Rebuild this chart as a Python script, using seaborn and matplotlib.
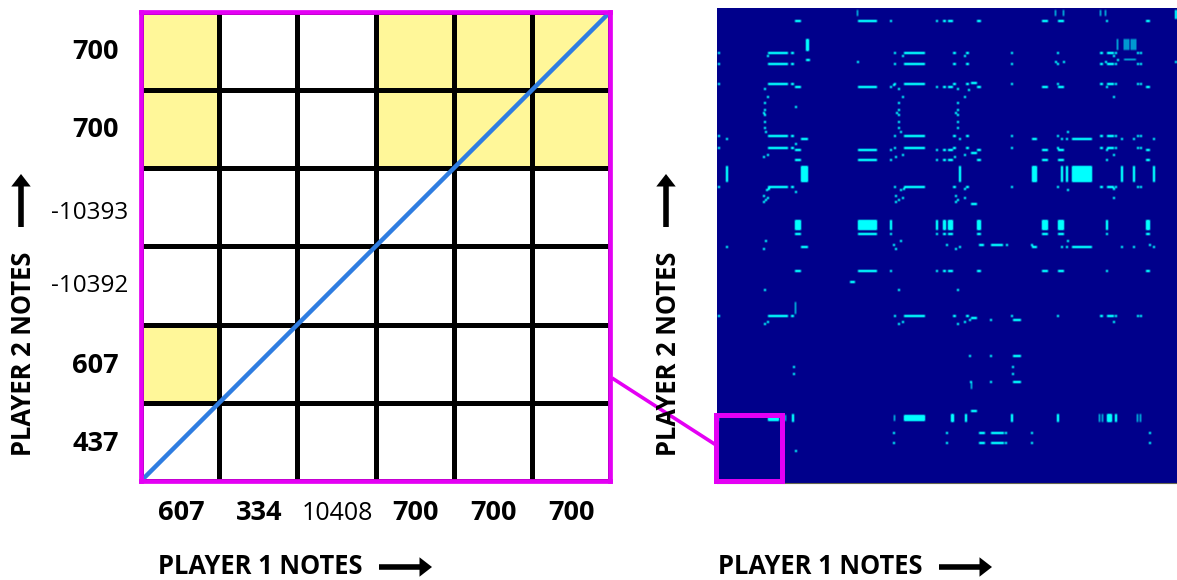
import numpy as np
import pandas as pd
import seaborn as sns
import matplotlib
matplotlib.use("Agg")
import matplotlib.pyplot as plt
from matplotlib.colors import LinearSegmentedColormap, ListedColormap
from matplotlib.patches import Rectangle, FancyArrowPatch
from matplotlib.transforms import ScaledTranslation

# ---- zoomed 6x6 matrix ----
p1_labels = ["607", "334", "10408", "700", "700", "700"]
p2_labels = ["700", "700", "-10393", "-10392", "607", "437"]
zoom_matrix = [
    [1, 0, 0, 1, 1, 1],
    [1, 0, 0, 1, 1, 1],
    [0, 0, 0, 0, 0, 0],
    [0, 0, 0, 0, 0, 0],
    [1, 0, 0, 0, 0, 0],
    [0, 0, 0, 0, 0, 0],
]

# ---- full self-similarity matrix: note index ranges of matches ----
N_P1, N_P2 = 460, 475
rows_a = [44, 55, 75, 127, 139, 178, 307]
cols_a = [(1, 2), (51, 70), (74, 76), (177, 178), (187, 207), (236, 238), (249, 251), (294, 295),
          (340, 341), (383, 385), (390, 396), (398, 399), (420, 421), (423, 424)]
rows_b = [12, 78, 141, 151, 225, 262]
cols_b = [(78, 83), (141, 159), (173, 174), (219, 220), (226, 228), (231, 235), (260, 263),
          (325, 330), (341, 343), (344, 346), (389, 390), (429, 432)]
block_b_rows = (212, 222)
rows_c = [130, 238]
cols_c = [(9, 10), (84, 90), (242, 243), (315, 319), (344, 345), (349, 350), (355, 374),
          (404, 405), (416, 417), (436, 437)]
block_c_rows = (158, 174)
rows_d = [424, 434]
cols_d = [(229, 230), (262, 267), (274, 286), (288, 289), (314, 315), (432, 433), (176, 177)]
# strong tall blocks (p1_start, p1_end, p2_start, p2_end)
blocks = [(89, 92, 31, 43), (51, 62, 407, 413), (187, 208, 407, 413), (390, 395, 406, 414),
          (234, 237, 406, 414), (248, 250, 406, 414), (75, 77, 406, 414)]
# faint segments (p1_start, p1_end, p2_start, p2_end)
segments = [
    (140, 141, 2, 8), (141, 159, 12, 13), (338, 339, 2, 8), (346, 347, 2, 8), (383, 384, 2, 8),
    (388, 389, 2, 8), (458, 460, 2, 11), (400, 401, 31, 42), (407, 408, 31, 42), (409, 410, 31, 42),
    (411, 412, 31, 42), (414, 415, 31, 42), (416, 417, 31, 42), (418, 419, 31, 42),
    (89, 93, 51, 53), (407, 419, 51, 52), (254, 260, 74, 76), (254, 260, 144, 146),
    (254, 260, 195, 197), (78, 79, 294, 306), (133, 138, 273, 275), (254, 260, 309, 311),
    (296, 304, 311, 313), (296, 304, 347, 349), (296, 304, 373, 375), (254, 255, 374, 381),
    (254, 260, 402, 404), (262, 267, 236, 238), (274, 286, 236, 238), (68, 69, 407, 413),
    (177, 178, 407, 413), (294, 296, 406, 414), (340, 342, 406, 414), (382, 383, 406, 414),
    (385, 386, 406, 414), (398, 400, 406, 414), (420, 421, 406, 414), (423, 424, 406, 414),
    (1, 2, 407, 413),
]
# isolated single-note matches (p1, p2)
dots = [
    (173, 12), (50, 47), (185, 47), (140, 53), (176, 76), (177, 75), (181, 80), (47, 80), (50, 88),
    (47, 94), (78, 98), (47, 101), (46, 104), (47, 106), (47, 113), (47, 119), (48, 123), (181, 94),
    (185, 88), (181, 101), (179, 104), (181, 106), (181, 113), (181, 119), (183, 123), (78, 135),
    (46, 148), (50, 146), (178, 148), (185, 146), (400, 51), (247, 47), (396, 47), (338, 53),
    (346, 53), (388, 53), (458, 53), (240, 80), (251, 81), (247, 88), (396, 88), (240, 94),
    (240, 101), (238, 104), (240, 106), (240, 113), (240, 119), (350, 123), (247, 146), (396, 146),
    (237, 148), (78, 183), (49, 181), (51, 180), (46, 187), (50, 189), (48, 191), (46, 193),
    (183, 181), (186, 180), (178, 187), (185, 189), (181, 191), (178, 193), (48, 232), (183, 232),
    (176, 236), (46, 240), (178, 240), (47, 281), (181, 281), (247, 180), (396, 180), (350, 181),
    (238, 187), (247, 189), (240, 191), (238, 193), (396, 189), (350, 232), (229, 236), (289, 236),
    (314, 236), (432, 236), (238, 240), (240, 281), (252, 311), (273, 311), (47, 315), (50, 313),
    (181, 315), (185, 313), (76, 358), (76, 365), (78, 442), (252, 347), (273, 347), (295, 358),
    (295, 365), (253, 373), (273, 373), (240, 315), (247, 313), (396, 313),
]

FONT = "Open Sans"
MAGENTA = "#e400f4"

def fill(m, x0, x1, y0, y1):
    m[y0:y1, x0:x1] = 1.0

full = np.zeros((N_P2, N_P1))
for rows, cols in ((rows_a, cols_a), (rows_b, cols_b), (rows_c, cols_c), (rows_d, cols_d)):
    for r in rows:
        for a, b in cols:
            fill(full, a, b + 1, r, r + 2)
for a, b in cols_b:
    fill(full, a, b + 1, *block_b_rows)
for a, b in cols_c:
    fill(full, a, b + 1, *block_c_rows)
for a, b, c, d in segments + blocks:
    fill(full, a, b, c, d)
for x, y in dots:
    fill(full, x, x + 2, y, y + 2)

# the reference image is slightly soft: a light display smoothing of the binary matrix
kernel = np.array([0.25, 0.5, 0.25])
soft = np.apply_along_axis(lambda v: np.convolve(v, kernel, mode="same"), 0, full)
soft = np.apply_along_axis(lambda v: np.convolve(v, kernel, mode="same"), 1, soft)
soft = np.clip(soft * 1.2, 0, 1)

W, H = 1177, 580
fig = plt.figure(figsize=(W / 100, H / 100), dpi=100, facecolor="white")

def axes_px(x0, y0, x1, y1, **kw):
    return fig.add_axes([x0 / W, 1 - y1 / H, (x1 - x0) / W, (y1 - y0) / H], **kw)

# left heatmap
axL = axes_px(141, 12, 610, 481)
sns.heatmap(pd.DataFrame(zoom_matrix, index=p2_labels, columns=range(6)), ax=axL, cbar=False,
            cmap=ListedColormap(["#ffffff", "#fff799"]), vmin=0, vmax=1,
            linewidths=2.5, linecolor="black", square=False,
            xticklabels=p1_labels, yticklabels=p2_labels)
axL.plot([0, 6], [6, 0], color="#2f7de1", lw=3.2, solid_capstyle="butt", zorder=5)
for s in axL.spines.values():
    s.set_visible(True)
    s.set_color(MAGENTA)
    s.set_linewidth(3.4)
    s.set_zorder(6)
axL.tick_params(axis="x", length=0, pad=10, rotation=0)
axL.tick_params(axis="y", length=0, pad=34, rotation=0)
px = 1 / 100
for t in axL.get_xticklabels():
    heavy = t.get_text() != "10408"
    t.set(fontfamily=FONT, fontsize=19.5 if heavy else 18, fontweight="bold" if heavy else "normal", color="black")
    t.set_transform(t.get_transform() + ScaledTranslation((1 if heavy else 1) * px, -(5 if heavy else 6) * px, fig.dpi_scale_trans))
ylab_dx = [2, 2, -4, -4, 2, 2]
ylab_dy = [1, 1, 6, 0, 2, 2]
for t, dx, dy in zip(axL.get_yticklabels(), ylab_dx, ylab_dy):
    heavy = not t.get_text().startswith("-")
    t.set(fontfamily=FONT, fontsize=19.5 if heavy else 17.5, fontweight="bold" if heavy else "normal",
          color="black", rotation=0, ha="center")
    t.set_transform(t.get_transform() + ScaledTranslation(dx * px, -dy * px, fig.dpi_scale_trans))

# right heatmap
axR = axes_px(717, 8, 1177, 483)
navy_cyan = LinearSegmentedColormap.from_list("nc", ["#00008b", "#00ffff"])
sns.heatmap(soft, ax=axR, cbar=False, cmap=navy_cyan, vmin=0, vmax=1, xticklabels=False, yticklabels=False,
            rasterized=True)
axR.spines["bottom"].set_visible(True)
axR.spines["bottom"].set_color("#66664f")
axR.spines["bottom"].set_linewidth(0.8)

# overlay in pixel coordinates
ov = fig.add_axes([0, 0, 1, 1], facecolor="none", zorder=10)
ov.set_xlim(0, W)
ov.set_ylim(H, 0)
ov.axis("off")
ov.plot([612, 716], [378, 445], color=MAGENTA, lw=2.6, solid_capstyle="butt")
ov.add_patch(Rectangle((715.5, 414.5), 66, 66, fill=False, edgecolor=MAGENTA, lw=3.6))

label_kw = dict(fontfamily=FONT, fontsize=18.4, fontweight="bold", color="black")
arrow_style = "simple,head_length=9,head_width=14,tail_width=4"
for x in (158, 718):
    ov.text(x, 567, "PLAYER 1 NOTES", ha="left", va="center", **label_kw)
    ov.add_patch(FancyArrowPatch((x + 221, 567), (x + 274, 567), arrowstyle=arrow_style, mutation_scale=1,
                                 color="black", lw=0, shrinkA=0, shrinkB=0))
for x, xa in ((24, 21), (669, 666)):
    ov.text(x, 354, "PLAYER 2 NOTES", ha="center", va="center", rotation=90, **label_kw)
    ov.add_patch(FancyArrowPatch((xa, 227), (xa, 174), arrowstyle=arrow_style, mutation_scale=1,
                                 color="black", lw=0, shrinkA=0, shrinkB=0))

fig.savefig("out.png", dpi=100, facecolor="white")
